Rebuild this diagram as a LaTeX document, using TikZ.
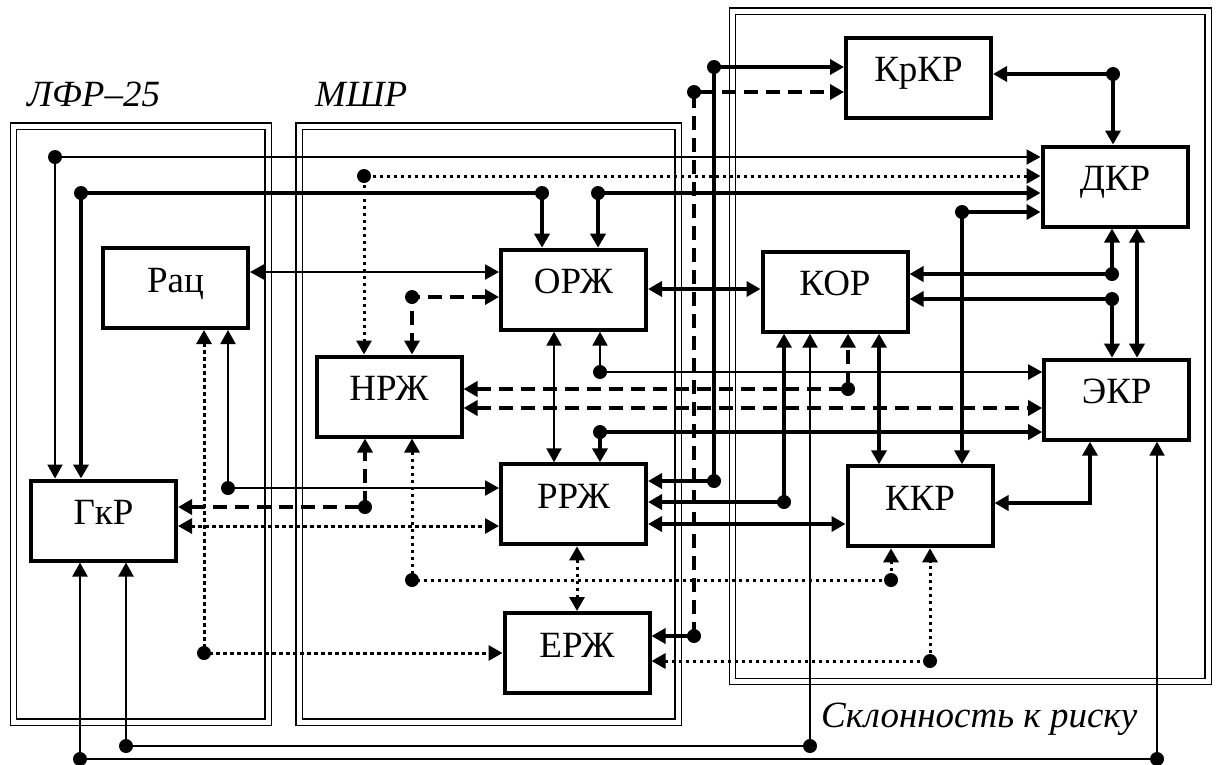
\documentclass[tikz,border=0pt]{standalone}
\usepackage{fontspec}
\setmainfont{Liberation Serif}
\usetikzlibrary{arrows.meta}
\begin{document}
\begin{tikzpicture}[
x=1pt,y=-1pt,
>={Triangle[length=14pt,width=15pt]},
box/.style={
draw,
line width=4pt,
fill=white,
minimum width=145pt,
inner sep=0pt,
text height=44pt,
text depth=36pt,
font=\fontsize{37}{40}\selectfont
},
caption/.style={inner sep=0pt,anchor=base west,font=\fontsize{37}{40}\selectfont\itshape},
frame/.style={draw,double,double distance=5pt,line width=1.3pt},
thinline/.style={line width=2pt},
thickline/.style={line width=4.5pt},
dashline/.style={line width=4.5pt,dash pattern=on 14pt off 8pt},
dotline/.style={line width=3pt,dash pattern=on 3.5pt off 3.5pt}
]
\useasboundingbox (0,0) rectangle (1217,764);
\draw[frame] (13.5,126) rectangle (268,722);
\draw[frame] (299,126) rectangle (678,722);
\draw[frame] (732.5,11) rectangle (1208,681.5);
\node[caption] (lfr) at (27,106) {ЛФР–25};
\node[caption] (mshr) at (315,106) {МШР};
\node[caption] (sklon) at (821,727) {Склонность к риску};
\node[box] (rac) at (175.5,288) {Рац};
\node[box] (gkr) at (103.5,520.5) {ГкР};
\node[box] (nrzh) at (389,396.5) {НРЖ};
\node[box] (orzh) at (573.5,289.7) {ОРЖ};
\node[box] (rrzh) at (573.5,504.3) {РРЖ};
\node[box] (erzh) at (577,653) {ЕРЖ};
\node[box] (krkr) at (918.5,77.7) {КрКР};
\node[box] (dkr) at (1115,186.5) {ДКР};
\node[box] (kor) at (835,291.7) {КОР};
\node[box] (ekr) at (1116.7,399.7) {ЭКР};
\node[box] (kkr) at (920,506.3) {ККР};
\coordinate (jA) at (55,157);
\coordinate (jB) at (81,193);
\coordinate (jC) at (542,193);
\coordinate (jD) at (598,193);
\coordinate (jE) at (364,176);
\coordinate (jF) at (412,297);
\coordinate (jG) at (600,372);
\coordinate (jH) at (848,389);
\coordinate (jI) at (600,432);
\coordinate (jJ) at (228,488);
\coordinate (jK) at (204,653);
\coordinate (jL) at (365,507);
\coordinate (jM) at (412,580);
\coordinate (jN) at (891,580);
\coordinate (jO) at (930,661);
\coordinate (jP) at (694,92);
\coordinate (jQ) at (694,636);
\coordinate (jR) at (714,67);
\coordinate (jS) at (714,481);
\coordinate (jT) at (784,502);
\coordinate (jU) at (810,746);
\coordinate (jV) at (126,746);
\coordinate (jW) at (80,759);
\coordinate (jX) at (1157,759);
\coordinate (jY) at (962,212);
\coordinate (jZ) at (1113,74);
\coordinate (j1) at (1112,274);
\coordinate (j2) at (1112,299);
\coordinate (cE) at (1090,503);
\coordinate (rowA) at (0,272);
\coordinate (rowB) at (0,289);
\coordinate (rowC) at (0,408);
\coordinate (rowD) at (0,526);
\coordinate (rowE) at (0,524);
\coordinate (colA) at (554,0);
\coordinate (colB) at (577,0);
\coordinate (colC) at (879,0);
\coordinate (colD) at (1137,0);
\draw[thinline,<->] (dkr.west |- jA) -- (jA) -- (jA |- gkr.north);
\draw[thickline,<->] (jB |- gkr.north) -- (jB) -- (jC) -- (jC |- orzh.north);
\draw[thickline,<->] (dkr.west |- jD) -- (jD) -- (jD |- orzh.north);
\draw[dotline,<->] (dkr.west |- jE) -- (jE) -- (jE |- nrzh.north);
\draw[thinline,<->] (rac.east |- rowA) -- (orzh.west |- rowA);
\draw[dashline,<->] (orzh.west |- jF) -- (jF) -- (jF |- nrzh.north);
\draw[thickline,<->] (orzh.east |- rowB) -- (kor.west |- rowB);
\draw[thinline,<->] (colA |- orzh.south) -- (colA |- rrzh.north);
\draw[thinline,<->] (jG |- orzh.south) -- (jG) -- (ekr.west |- jG);
\draw[dashline,<->] (nrzh.east |- jH) -- (jH) -- (jH |- kor.south);
\draw[dashline,<->] (nrzh.east |- rowC) -- (ekr.west |- rowC);
\draw[thickline,<->] (jI |- rrzh.north) -- (jI) -- (ekr.west |- jI);
\draw[thinline,<->] (jJ |- rac.south) -- (jJ) -- (rrzh.west |- jJ);
\draw[dotline,<->] (jK |- rac.south) -- (jK) -- (erzh.west |- jK);
\draw[dashline,<->] (gkr.east |- jL) -- (jL) -- (jL |- nrzh.south);
\draw[dotline,<->] (gkr.east |- rowD) -- (rrzh.west |- rowD);
\draw[dotline,<->] (jM |- nrzh.south) -- (jM) -- (jN) -- (jN |- kkr.south);
\draw[dotline,<->] (colB |- rrzh.south) -- (colB |- erzh.north);
\draw[dotline,<->] (erzh.east |- jO) -- (jO) -- (jO |- kkr.south);
\draw[dashline,->] (jQ) -- (jP) -- (krkr.west |- jP);
\draw[thickline,->] (jQ) -- (erzh.east |- jQ);
\draw[thickline,<->] (krkr.west |- jR) -- (jR) -- (jS) -- (rrzh.east |- jS);
\draw[thickline,<->] (rrzh.east |- jT) -- (jT) -- (jT |- kor.south);
\draw[thickline,<->] (rrzh.east |- rowE) -- (kkr.west |- rowE);
\draw[thinline,<->] (jV |- gkr.south) -- (jV) -- (jU) -- (jU |- kor.south);
\draw[thinline,<->] (jW |- gkr.south) -- (jW) -- (jX) -- (jX |- ekr.south);
\draw[thickline,<->] (colC |- kor.south) -- (colC |- kkr.north);
\draw[thickline,<->] (dkr.west |- jY) -- (jY) -- (jY |- kkr.north);
\draw[thickline,<->] (krkr.east |- jZ) -- (jZ) -- (jZ |- dkr.north);
\draw[thickline,<->] (kor.east |- j1) -- (j1) -- (j1 |- dkr.south);
\draw[thickline,<->] (kor.east |- j2) -- (j2) -- (j2 |- ekr.north);
\draw[thickline,<->] (colD |- dkr.south) -- (colD |- ekr.north);
\draw[thickline,<->] (kkr.east |- cE) -- (cE) -- (cE |- ekr.south);
\foreach \j in {jA,jB,jC,jD,jE,jF,jG,jH,jI,jJ,jK,jL,jM,jN,jO,jP,jQ,jR,jS,jT,jU,jV,jW,jX,jY,jZ,j1,j2}
\fill (\j) circle (7pt);
\end{tikzpicture}
\end{document}
